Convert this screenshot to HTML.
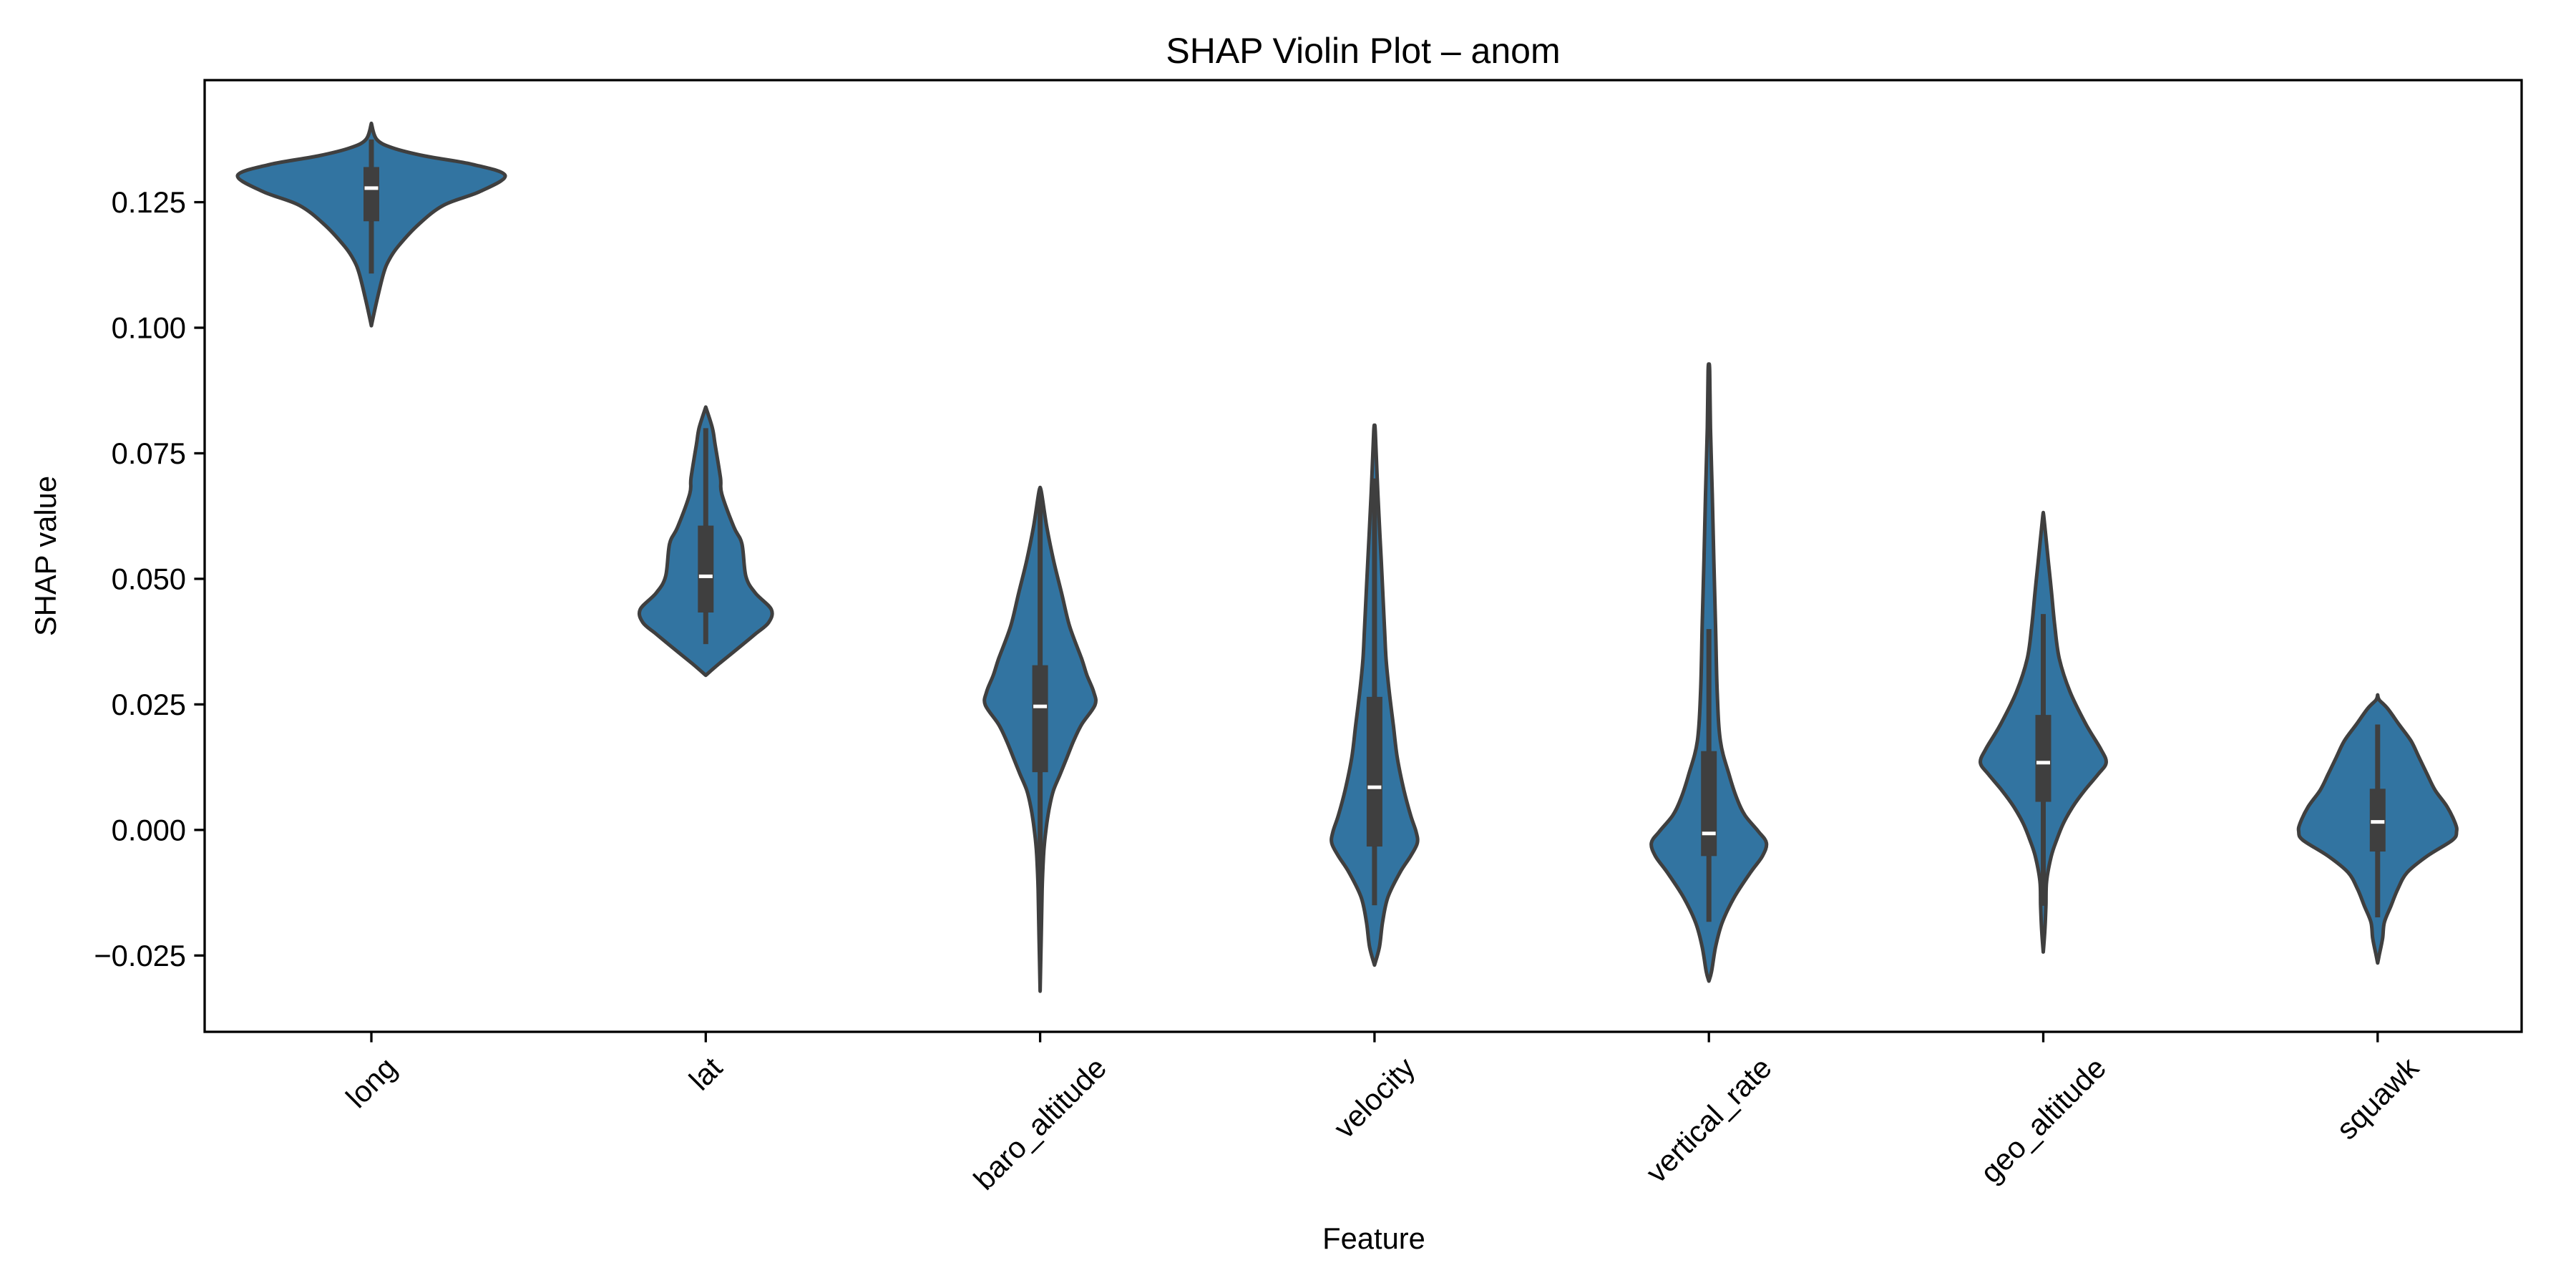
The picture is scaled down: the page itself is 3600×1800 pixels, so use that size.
<!DOCTYPE html>
<html><head><meta charset="utf-8"><style>
html,body{margin:0;padding:0;background:#fff}
svg{display:block;font-family:"Liberation Sans","DejaVu Sans",sans-serif}
</style></head><body>
<svg id="chart" width="3600" height="1800" viewBox="0 0 3600 1800" xmlns="http://www.w3.org/2000/svg">
<rect width="3600" height="1800" fill="#fff"/>
<text x="1905" y="88" font-size="50" text-anchor="middle">SHAP Violin Plot – anom</text>
<text transform="translate(78,777) rotate(-90)" font-size="41.7" text-anchor="middle">SHAP value</text>
<text x="1920" y="1745" font-size="41.7" text-anchor="middle">Feature</text>
<g id="violins"></g>
<g id="axes"></g>
</svg>
<script>
const categories = ["long","lat","baro_altitude","velocity","vertical_rate","geo_altitude","squawk"];
const yTicks = [-0.025, 0, 0.025, 0.05, 0.075, 0.1, 0.125];
const yTickLabels = ["\u22120.025","0.000","0.025","0.050","0.075","0.100","0.125"];
const profVals = [
 [.1407,.1375,.1358,.1342,.1325,.1303,.1271,.1244,.1205,.1162,.1134,.1107,.1053,.1004],
 [.0842,.0800,.0767,.0701,.0669,.0603,.0570,.0505,.0472,.0439,.0413,.0390,.0357,.0331,.0308],
 [.0682,.0669,.0603,.0537,.0472,.0406,.0341,.0308,.0275,.0249,.0210,.0177,.0144,.0111,.0079,.0046,.0013,-.0020,-.0052,-.0118,-.0216,-.0321],
 [.0803,.0793,.0669,.0537,.0406,.0341,.0275,.0210,.0144,.0079,.0029,-.0003,-.0026,-.0052,-.0085,-.0134,-.0184,-.0233,-.0269],
 [.0927,.0914,.0800,.0669,.0537,.0406,.0275,.0177,.0111,.0062,.0029,-.0003,-.0026,-.0052,-.0085,-.0134,-.0184,-.0233,-.0282,-.0301],
 [.0632,.0619,.0537,.0472,.0406,.0341,.0275,.0210,.0161,.0134,.0111,.0079,.0046,.0013,-.0020,-.0052,-.0102,-.0151,-.0200,-.0243],
 [.0269,.0259,.0242,.0210,.0177,.0144,.0111,.0079,.0046,.0013,-.0003,-.0020,-.0052,-.0085,-.0118,-.0151,-.0184,-.0216,-.0249,-.0265]
];
const profDens = [
 [0,.04,.16,.40,.76,1.0,.81,.54,.35,.20,.13,.09,.04,0],
 [0,.05,.07,.11,.12,.21,.27,.30,.37,.49,.47,.37,.22,.10,0],
 [0,.012,.05,.10,.16,.22,.31,.35,.40,.41,.31,.25,.20,.15,.10,.07,.05,.035,.025,.015,.008,0],
 [0,.006,.025,.05,.074,.086,.11,.14,.17,.22,.27,.31,.32,.27,.19,.10,.06,.037,0],
 [0,.006,.012,.025,.037,.05,.062,.086,.15,.21,.27,.37,.43,.40,.31,.19,.10,.05,.02,0],
 [0,.006,.037,.062,.086,.12,.20,.32,.43,.47,.41,.31,.22,.15,.10,.06,.025,.02,.012,0],
 [0,.012,.074,.16,.25,.31,.37,.43,.52,.58,.59,.56,.37,.22,.15,.10,.05,.037,.012,0]
];
const q1 = [.1212,.0433,.0115,-.0033,-.0052,.0056,-.0043];
const medians = [.1278,.0505,.0246,.0085,-.0007,.0134,.0016];
const q3 = [.1320,.0606,.0328,.0265,.0157,.0229,.0082];
const whiskLo = [.1108,.0370,-.0144,-.0150,-.0183,-.0151,-.0174];
const whiskHi = [.1375,.0800,.0669,.0700,.0400,.0430,.0210];

const L=286,R=3524,T=112,B=1442;
const yMin=-0.0402,yMax=0.1493;
const y = v => B - (v - yMin)/(yMax - yMin)*(B - T);
const x0=519, step=467.3;
const x = i => x0 + step*i;
const maxHalf=187;
const NS="http://www.w3.org/2000/svg";
const vg=document.getElementById('violins'), ag=document.getElementById('axes');
function mk(tag,attrs,parent){const e=document.createElementNS(NS,tag);for(const k in attrs)e.setAttribute(k,attrs[k]);parent.appendChild(e);return e;}
function smooth(pts){
  let d="M"+pts[0][0].toFixed(1)+","+pts[0][1].toFixed(1);
  for(let i=0;i<pts.length-1;i++){
    const p0=pts[Math.max(0,i-1)],p1=pts[i],p2=pts[i+1],p3=pts[Math.min(pts.length-1,i+2)];
    const c1=[p1[0]+(p2[0]-p0[0])/6,p1[1]+(p2[1]-p0[1])/6];
    const c2=[p2[0]-(p3[0]-p1[0])/6,p2[1]-(p3[1]-p1[1])/6];
    d+="C"+c1[0].toFixed(1)+","+c1[1].toFixed(1)+" "+c2[0].toFixed(1)+","+c2[1].toFixed(1)+" "+p2[0].toFixed(1)+","+p2[1].toFixed(1);
  }
  return d;
}
categories.forEach((c,i)=>{
  const cx=x(i);
  const right=profVals[i].map((v,k)=>[cx+profDens[i][k]*maxHalf,y(v)]);
  const left=profVals[i].map((v,k)=>[cx-profDens[i][k]*maxHalf,y(v)]).reverse();
  const d=smooth(right)+" L"+smooth(left).slice(1)+"Z";
  const p=mk('path',{d:d,fill:'#3274a1',stroke:'#3f3f3f','stroke-width':5,'stroke-linejoin':'round'},vg);
  
  
  const w=mk('line',{x1:cx,x2:cx,y1:y(whiskHi[i]),y2:y(whiskLo[i]),stroke:'#3f3f3f','stroke-width':7},vg);
  
  
  const b=mk('rect',{x:cx-11,width:22,y:y(q3[i]),height:y(q1[i])-y(q3[i]),fill:'#3f3f3f'},vg);
  
  
  const m=mk('rect',{x:cx-9.5,width:19,y:y(medians[i])-2.5,height:5,fill:'#fff'},vg);
  
  
  const t=mk('line',{x1:cx,x2:cx,y1:B,y2:B+14.6,stroke:'#000','stroke-width':3.3},ag);
  
  
  const tx=mk('text',{'font-size':41.7,'text-anchor':'middle'},ag);
  tx.textContent=c;
  
  
  const len=tx.getComputedTextLength();
  const h=30;
  const half=(len*0.7071+h*0.7071)/2;
  tx.setAttribute('transform','translate('+cx+','+(B+14.6+18+half)+') rotate(-45)');
  tx.setAttribute('dy','14');
});
yTicks.forEach((v,k)=>{
  const t=mk('line',{x1:L-14.6,x2:L,y1:y(v),y2:y(v),stroke:'#000','stroke-width':3.3},ag);
  
  
  const tx=mk('text',{x:L-26,y:y(v)+14.5,'font-size':41.7,'text-anchor':'end'},ag);
  tx.textContent=yTickLabels[k];
  
  
});
const fr=mk('rect',{x:L,y:T,width:R-L,height:B-T,fill:'none',stroke:'#000','stroke-width':3.3},ag);


</script>
</body></html>
